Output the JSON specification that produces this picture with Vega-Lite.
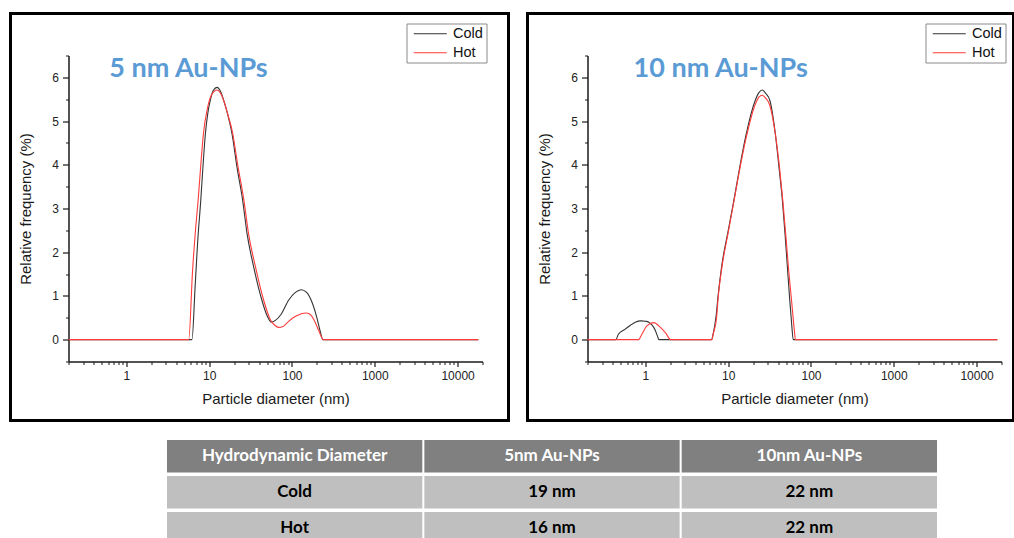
{
  "$schema": "https://vega.github.io/schema/vega-lite/v6.json",
  "background": "white",
  "padding": {"left": 8.5, "top": 11.5, "right": 0, "bottom": 0},
  "config": {
    "axis": {"grid": false, "labelFont": "Liberation Sans", "titleFont": "Liberation Sans", "labelColor": "#222", "titleColor": "#1a1a1a", "domainColor": "#1a1a1a", "tickColor": "#1a1a1a", "titleFontWeight": "normal"},
    "legend": {"labelFont": "Liberation Sans"}
  },
  "datasets": {
    "p5": [
      {"s": "Cold", "d": 0.2, "f": 0}, {"s": "Cold", "d": 6.2, "f": 0}, {"s": "Cold", "d": 6.76, "f": 1.2}, {"s": "Cold", "d": 7.24, "f": 2.2}, {"s": "Cold", "d": 7.91, "f": 3.18}, {"s": "Cold", "d": 8.51, "f": 4.1}, {"s": "Cold", "d": 8.99, "f": 4.7}, {"s": "Cold", "d": 9.66, "f": 5.2}, {"s": "Cold", "d": 10.3, "f": 5.47}, {"s": "Cold", "d": 11.2, "f": 5.7}, {"s": "Cold", "d": 12.45, "f": 5.77}, {"s": "Cold", "d": 13.7, "f": 5.68}, {"s": "Cold", "d": 15.0, "f": 5.47}, {"s": "Cold", "d": 17.0, "f": 5.1}, {"s": "Cold", "d": 18.9, "f": 4.7}, {"s": "Cold", "d": 21.7, "f": 3.94}, {"s": "Cold", "d": 25.4, "f": 3.18}, {"s": "Cold", "d": 28.7, "f": 2.42}, {"s": "Cold", "d": 34.5, "f": 1.66}, {"s": "Cold", "d": 43.5, "f": 0.89}, {"s": "Cold", "d": 50, "f": 0.55}, {"s": "Cold", "d": 56.4, "f": 0.4}, {"s": "Cold", "d": 63, "f": 0.44}, {"s": "Cold", "d": 74, "f": 0.58}, {"s": "Cold", "d": 91, "f": 0.9}, {"s": "Cold", "d": 110, "f": 1.08}, {"s": "Cold", "d": 129, "f": 1.14}, {"s": "Cold", "d": 150, "f": 1.08}, {"s": "Cold", "d": 175, "f": 0.85}, {"s": "Cold", "d": 200, "f": 0.5}, {"s": "Cold", "d": 220, "f": 0.18}, {"s": "Cold", "d": 236, "f": 0}, {"s": "Cold", "d": 17800, "f": 0},
      {"s": "Hot", "d": 0.2, "f": 0}, {"s": "Hot", "d": 5.66, "f": 0}, {"s": "Hot", "d": 6.31, "f": 1.6}, {"s": "Hot", "d": 6.9, "f": 2.6}, {"s": "Hot", "d": 7.35, "f": 3.18}, {"s": "Hot", "d": 8.0, "f": 4.1}, {"s": "Hot", "d": 8.51, "f": 4.7}, {"s": "Hot", "d": 9.55, "f": 5.3}, {"s": "Hot", "d": 10.7, "f": 5.6}, {"s": "Hot", "d": 12.45, "f": 5.71}, {"s": "Hot", "d": 13.7, "f": 5.64}, {"s": "Hot", "d": 15.1, "f": 5.45}, {"s": "Hot", "d": 17.1, "f": 5.1}, {"s": "Hot", "d": 19.1, "f": 4.75}, {"s": "Hot", "d": 22.1, "f": 4.0}, {"s": "Hot", "d": 26.3, "f": 3.18}, {"s": "Hot", "d": 29.9, "f": 2.42}, {"s": "Hot", "d": 36.3, "f": 1.66}, {"s": "Hot", "d": 45.7, "f": 0.89}, {"s": "Hot", "d": 55, "f": 0.45}, {"s": "Hot", "d": 62, "f": 0.33}, {"s": "Hot", "d": 69, "f": 0.28}, {"s": "Hot", "d": 78, "f": 0.3}, {"s": "Hot", "d": 89, "f": 0.4}, {"s": "Hot", "d": 103, "f": 0.5}, {"s": "Hot", "d": 117, "f": 0.56}, {"s": "Hot", "d": 146, "f": 0.61}, {"s": "Hot", "d": 165, "f": 0.58}, {"s": "Hot", "d": 185, "f": 0.45}, {"s": "Hot", "d": 209, "f": 0.22}, {"s": "Hot", "d": 240, "f": 0}, {"s": "Hot", "d": 17800, "f": 0}
    ],
    "p10": [
      {"s": "Cold", "d": 0.2, "f": 0}, {"s": "Cold", "d": 0.44, "f": 0}, {"s": "Cold", "d": 0.474, "f": 0.13}, {"s": "Cold", "d": 0.571, "f": 0.24}, {"s": "Cold", "d": 0.66, "f": 0.33}, {"s": "Cold", "d": 0.755, "f": 0.4}, {"s": "Cold", "d": 0.89, "f": 0.43}, {"s": "Cold", "d": 1.0, "f": 0.42}, {"s": "Cold", "d": 1.1, "f": 0.4}, {"s": "Cold", "d": 1.22, "f": 0.32}, {"s": "Cold", "d": 1.32, "f": 0.21}, {"s": "Cold", "d": 1.4, "f": 0.08}, {"s": "Cold", "d": 1.46, "f": 0}, {"s": "Cold", "d": 6.3, "f": 0}, {"s": "Cold", "d": 6.6, "f": 0.14}, {"s": "Cold", "d": 7.1, "f": 0.5}, {"s": "Cold", "d": 7.6, "f": 1.05}, {"s": "Cold", "d": 8.32, "f": 1.66}, {"s": "Cold", "d": 10, "f": 2.49}, {"s": "Cold", "d": 11.7, "f": 3.18}, {"s": "Cold", "d": 13.8, "f": 3.95}, {"s": "Cold", "d": 16.5, "f": 4.7}, {"s": "Cold", "d": 21.2, "f": 5.47}, {"s": "Cold", "d": 23.5, "f": 5.65}, {"s": "Cold", "d": 25.8, "f": 5.71}, {"s": "Cold", "d": 28.5, "f": 5.63}, {"s": "Cold", "d": 31.9, "f": 5.47}, {"s": "Cold", "d": 37.1, "f": 4.71}, {"s": "Cold", "d": 41.1, "f": 3.94}, {"s": "Cold", "d": 45.2, "f": 3.18}, {"s": "Cold", "d": 48.6, "f": 2.42}, {"s": "Cold", "d": 51.9, "f": 1.66}, {"s": "Cold", "d": 55.5, "f": 0.89}, {"s": "Cold", "d": 58.5, "f": 0.35}, {"s": "Cold", "d": 61, "f": 0}, {"s": "Cold", "d": 17800, "f": 0},
      {"s": "Hot", "d": 0.2, "f": 0}, {"s": "Hot", "d": 0.83, "f": 0}, {"s": "Hot", "d": 0.91, "f": 0.13}, {"s": "Hot", "d": 1.05, "f": 0.32}, {"s": "Hot", "d": 1.265, "f": 0.39}, {"s": "Hot", "d": 1.52, "f": 0.28}, {"s": "Hot", "d": 1.79, "f": 0.13}, {"s": "Hot", "d": 2.01, "f": 0}, {"s": "Hot", "d": 6.35, "f": 0}, {"s": "Hot", "d": 6.6, "f": 0.13}, {"s": "Hot", "d": 7.24, "f": 0.5}, {"s": "Hot", "d": 7.6, "f": 1.0}, {"s": "Hot", "d": 8.32, "f": 1.6}, {"s": "Hot", "d": 10, "f": 2.45}, {"s": "Hot", "d": 11.7, "f": 3.15}, {"s": "Hot", "d": 13.8, "f": 3.9}, {"s": "Hot", "d": 16.5, "f": 4.62}, {"s": "Hot", "d": 21.2, "f": 5.38}, {"s": "Hot", "d": 23.5, "f": 5.55}, {"s": "Hot", "d": 25.8, "f": 5.59}, {"s": "Hot", "d": 28.5, "f": 5.52}, {"s": "Hot", "d": 31.6, "f": 5.38}, {"s": "Hot", "d": 37.1, "f": 4.71}, {"s": "Hot", "d": 41.7, "f": 3.94}, {"s": "Hot", "d": 45.7, "f": 3.18}, {"s": "Hot", "d": 50.1, "f": 2.3}, {"s": "Hot", "d": 53.7, "f": 1.6}, {"s": "Hot", "d": 58.9, "f": 0.8}, {"s": "Hot", "d": 63.1, "f": 0.2}, {"s": "Hot", "d": 65, "f": 0}, {"s": "Hot", "d": 17800, "f": 0}
    ],
    "table": [
      {"row": "h", "col": "A", "t": "Hydrodynamic Diameter"}, {"row": "h", "col": "B", "t": "5nm Au-NPs"}, {"row": "h", "col": "C", "t": "10nm Au-NPs"},
      {"row": "c", "col": "A", "t": "Cold"}, {"row": "c", "col": "B", "t": "19 nm"}, {"row": "c", "col": "C", "t": "22 nm"},
      {"row": "o", "col": "A", "t": "Hot"}, {"row": "o", "col": "B", "t": "16 nm"}, {"row": "o", "col": "C", "t": "22 nm"}
    ]
  },
  "spacing": 16.5,
  "vconcat": [
    {
      "spacing": 15,
      "resolve": {"scale": {"color": "independent"}, "legend": {"color": "independent"}},
      "hconcat": [
        {
          "width": 498, "height": 407,
          "view": {"stroke": "black", "strokeWidth": 3},
          "resolve": {"axis": {"x": "independent", "y": "independent"}},
          "layer": [
            {
              "data": {"name": "p5"},
              "mark": {"type": "line", "strokeWidth": 1.1, "interpolate": "monotone"},
              "encoding": {
                "x": {"field": "d", "type": "quantitative", "scale": {"type": "log", "domain": [0.2, 20000], "range": [58, 472], "nice": false},
                  "axis": {"orient": "bottom", "offset": -59, "values": [1, 10, 100, 1000, 10000], "format": "d", "domainWidth": 1.5, "tickSize": 5, "tickWidth": 1.2, "labelFontSize": 12, "labelPadding": 4, "labelFlush": false, "labelOverlap": false, "title": "Particle diameter (nm)", "titleFontSize": 15, "titlePadding": 10}},
                "y": {"field": "f", "type": "quantitative", "scale": {"domain": [-0.5, 6.5], "range": [348, 42], "nice": false, "zero": false},
                  "axis": {"orient": "left", "offset": -58, "values": [0, 1, 2, 3, 4, 5, 6], "format": "d", "domainWidth": 1.5, "tickSize": 6, "tickWidth": 1.2, "labelFontSize": 12, "labelPadding": 4, "labelFlush": false, "title": "Relative frequency (%)", "titleFontSize": 15, "titlePadding": 18}},
                "color": {"field": "s", "type": "nominal", "scale": {"domain": ["Cold", "Hot"], "range": ["#333333", "#ff3b3b"]},
                  "legend": {"title": null, "orient": "none", "legendX": 396, "legendY": 10, "strokeColor": "#8a8a8a", "fillColor": "white", "padding": 3, "symbolType": "M-0.5,0H5", "symbolSize": 144, "symbolStrokeWidth": 1.2, "labelFontSize": 14.5, "labelColor": "#111", "labelOffset": 29, "rowPadding": 4}}
              }
            },
            {
              "data": {"name": "p5"},
              "mark": {"type": "point", "opacity": 0},
              "encoding": {
                "x": {"field": "d", "type": "quantitative", "scale": {"type": "log", "domain": [0.2, 20000], "range": [58, 472], "nice": false},
                  "axis": {"orient": "bottom", "offset": -59, "values": [0.2, 0.3, 0.4, 0.5, 0.6, 0.7, 0.8, 0.9, 2, 3, 4, 5, 6, 7, 8, 9, 20, 30, 40, 50, 60, 70, 80, 90, 200, 300, 400, 500, 600, 700, 800, 900, 2000, 3000, 4000, 5000, 6000, 7000, 8000, 9000, 20000], "domain": false, "labels": false, "tickSize": 3, "tickWidth": 1, "title": null}},
                "y": {"field": "f", "type": "quantitative", "scale": {"domain": [-0.5, 6.5], "range": [348, 42], "nice": false, "zero": false},
                  "axis": {"orient": "left", "offset": -58, "values": [-0.5, 0.5, 1.5, 2.5, 3.5, 4.5, 5.5, 6.5], "domain": false, "labels": false, "tickSize": 3, "tickWidth": 1, "title": null}}
              }
            },
            {
              "data": {"values": [{"d": 0.62, "f": 6.0, "t": "5 nm Au-NPs"}]},
              "mark": {"type": "text", "align": "left", "baseline": "alphabetic", "font": "Lato", "fontWeight": "bold", "fontSize": 27, "color": "#5b9bd5"},
              "encoding": {
                "x": {"field": "d", "type": "quantitative", "scale": {"type": "log", "domain": [0.2, 20000], "range": [58, 472], "nice": false}, "axis": null},
                "y": {"field": "f", "type": "quantitative", "scale": {"domain": [-0.5, 6.5], "range": [348, 42], "nice": false, "zero": false}, "axis": null},
                "text": {"field": "t"}
              }
            }
          ]
        },
        {
          "width": 486, "height": 407,
          "view": {"stroke": "black", "strokeWidth": 3},
          "resolve": {"axis": {"x": "independent", "y": "independent"}},
          "layer": [
            {
              "data": {"name": "p10"},
              "mark": {"type": "line", "strokeWidth": 1.1, "interpolate": "monotone"},
              "encoding": {
                "x": {"field": "d", "type": "quantitative", "scale": {"type": "log", "domain": [0.2, 20000], "range": [60, 474], "nice": false},
                  "axis": {"orient": "bottom", "offset": -59, "values": [1, 10, 100, 1000, 10000], "format": "d", "domainWidth": 1.5, "tickSize": 5, "tickWidth": 1.2, "labelFontSize": 12, "labelPadding": 4, "labelFlush": false, "labelOverlap": false, "title": "Particle diameter (nm)", "titleFontSize": 15, "titlePadding": 10}},
                "y": {"field": "f", "type": "quantitative", "scale": {"domain": [-0.5, 6.5], "range": [348, 42], "nice": false, "zero": false},
                  "axis": {"orient": "left", "offset": -60, "values": [0, 1, 2, 3, 4, 5, 6], "format": "d", "domainWidth": 1.5, "tickSize": 6, "tickWidth": 1.2, "labelFontSize": 12, "labelPadding": 4, "labelFlush": false, "title": "Relative frequency (%)", "titleFontSize": 15, "titlePadding": 18}},
                "color": {"field": "s", "type": "nominal", "scale": {"domain": ["Cold", "Hot"], "range": ["#333333", "#ff3b3b"]},
                  "legend": {"title": null, "orient": "none", "legendX": 398, "legendY": 10, "strokeColor": "#8a8a8a", "fillColor": "white", "padding": 3, "symbolType": "M-0.5,0H5", "symbolSize": 144, "symbolStrokeWidth": 1.2, "labelFontSize": 14.5, "labelColor": "#111", "labelOffset": 29, "rowPadding": 4}}
              }
            },
            {
              "data": {"name": "p10"},
              "mark": {"type": "point", "opacity": 0},
              "encoding": {
                "x": {"field": "d", "type": "quantitative", "scale": {"type": "log", "domain": [0.2, 20000], "range": [60, 474], "nice": false},
                  "axis": {"orient": "bottom", "offset": -59, "values": [0.2, 0.3, 0.4, 0.5, 0.6, 0.7, 0.8, 0.9, 2, 3, 4, 5, 6, 7, 8, 9, 20, 30, 40, 50, 60, 70, 80, 90, 200, 300, 400, 500, 600, 700, 800, 900, 2000, 3000, 4000, 5000, 6000, 7000, 8000, 9000, 20000], "domain": false, "labels": false, "tickSize": 3, "tickWidth": 1, "title": null}},
                "y": {"field": "f", "type": "quantitative", "scale": {"domain": [-0.5, 6.5], "range": [348, 42], "nice": false, "zero": false},
                  "axis": {"orient": "left", "offset": -60, "values": [-0.5, 0.5, 1.5, 2.5, 3.5, 4.5, 5.5, 6.5], "domain": false, "labels": false, "tickSize": 3, "tickWidth": 1, "title": null}}
              }
            },
            {
              "data": {"values": [{"d": 0.72, "f": 6.0, "t": "10 nm Au-NPs"}]},
              "mark": {"type": "text", "align": "left", "baseline": "alphabetic", "font": "Lato", "fontWeight": "bold", "fontSize": 27, "color": "#5b9bd5"},
              "encoding": {
                "x": {"field": "d", "type": "quantitative", "scale": {"type": "log", "domain": [0.2, 20000], "range": [60, 474], "nice": false}, "axis": null},
                "y": {"field": "f", "type": "quantitative", "scale": {"domain": [-0.5, 6.5], "range": [348, 42], "nice": false, "zero": false}, "axis": null},
                "text": {"field": "t"}
              }
            }
          ]
        }
      ]
    },
    {
      "width": 930, "height": 100,
      "view": {"stroke": null},
      "data": {"name": "table"},
      "encoding": {
        "x": {"field": "col", "type": "ordinal", "scale": {"domain": ["A", "B", "C"], "range": [156.5, 926.5], "paddingInner": 0.008, "paddingOuter": 0}, "axis": null},
        "y": {"field": "row", "type": "ordinal", "scale": {"domain": ["h", "c", "o"], "range": [1, 105.5], "paddingInner": 0.097, "paddingOuter": 0}, "axis": null}
      },
      "layer": [
        {
          "mark": {"type": "rect", "clip": true},
          "encoding": {
            "color": {"condition": {"test": "datum.row === 'h'", "value": "#808080"}, "value": "#bfbfbf"}
          }
        },
        {
          "mark": {"type": "text", "clip": true, "font": "Lato", "fontWeight": "bold", "fontSize": 17, "baseline": "middle", "align": "center"},
          "encoding": {
            "text": {"field": "t"},
            "color": {"condition": {"test": "datum.row === 'h'", "value": "white"}, "value": "black"}
          }
        }
      ]
    }
  ]
}
